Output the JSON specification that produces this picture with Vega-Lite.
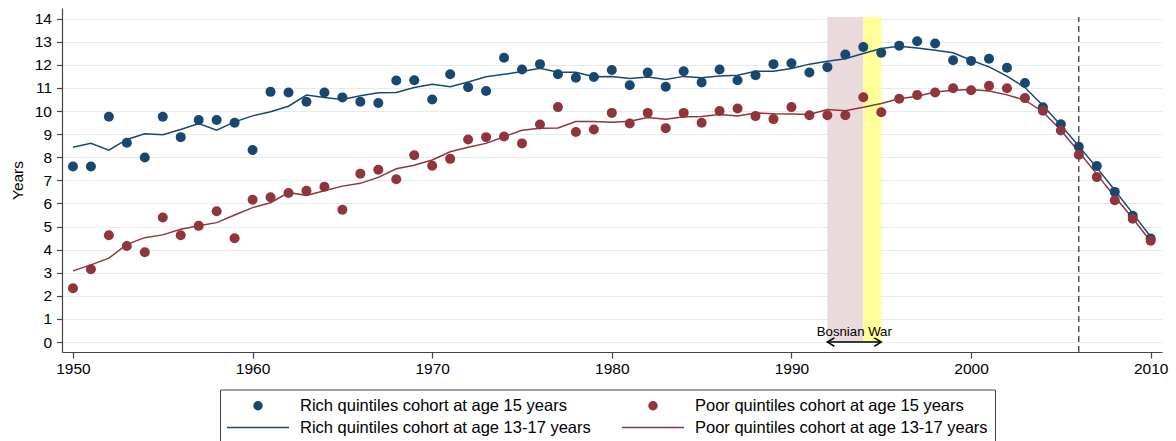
{
  "$schema": "https://vega.github.io/schema/vega-lite/v6.json",
  "width": 1100,
  "height": 344,
  "autosize": {"type": "none"},
  "padding": {"left": 62, "top": 8, "right": 14, "bottom": 89},
  "background": "white",
  "config": {
    "view": {"stroke": null},
    "font": "Liberation Sans",
    "axis": {"domainColor": "#444", "tickColor": "#444", "labelColor": "#000", "titleColor": "#000", "labelFontSize": 15.5, "titleFontSize": 15.5, "titleFontWeight": "normal", "domainWidth": 1.2, "tickWidth": 1.2, "labelFont": "Liberation Sans", "titleFont": "Liberation Sans"},
    "legend": {"title": null, "columns": 2, "direction": "horizontal", "orient": "none", "legendX": 158, "legendY": 381.5, "padding": 7, "strokeColor": "#444", "fillColor": "white", "labelFontSize": 16.5, "labelFont": "Liberation Sans", "labelColor": "#000", "labelLimit": 500, "symbolSize": 256, "symbolStrokeWidth": 1.5, "symbolOffset": 22, "labelOffset": 33, "columnPadding": 28, "rowPadding": 4, "gridAlign": "each"}
  },
  "datasets": {
    "dots": [
      {"year":1950,"series":"rich15","value":7.6},{"year":1951,"series":"rich15","value":7.6},{"year":1952,"series":"rich15","value":9.75},{"year":1953,"series":"rich15","value":8.63},{"year":1954,"series":"rich15","value":7.99},{"year":1955,"series":"rich15","value":9.75},{"year":1956,"series":"rich15","value":8.87},{"year":1957,"series":"rich15","value":9.61},{"year":1958,"series":"rich15","value":9.61},{"year":1959,"series":"rich15","value":9.49},
      {"year":1960,"series":"rich15","value":8.31},{"year":1961,"series":"rich15","value":10.83},{"year":1962,"series":"rich15","value":10.8},{"year":1963,"series":"rich15","value":10.4},{"year":1964,"series":"rich15","value":10.8},{"year":1965,"series":"rich15","value":10.59},{"year":1966,"series":"rich15","value":10.4},{"year":1967,"series":"rich15","value":10.35},{"year":1968,"series":"rich15","value":11.32},{"year":1969,"series":"rich15","value":11.33},
      {"year":1970,"series":"rich15","value":10.5},{"year":1971,"series":"rich15","value":11.59},{"year":1972,"series":"rich15","value":11.03},{"year":1973,"series":"rich15","value":10.87},{"year":1974,"series":"rich15","value":12.31},{"year":1975,"series":"rich15","value":11.8},{"year":1976,"series":"rich15","value":12.03},{"year":1977,"series":"rich15","value":11.59},{"year":1978,"series":"rich15","value":11.44},{"year":1979,"series":"rich15","value":11.47},
      {"year":1980,"series":"rich15","value":11.78},{"year":1981,"series":"rich15","value":11.12},{"year":1982,"series":"rich15","value":11.67},{"year":1983,"series":"rich15","value":11.05},{"year":1984,"series":"rich15","value":11.72},{"year":1985,"series":"rich15","value":11.24},{"year":1986,"series":"rich15","value":11.8},{"year":1987,"series":"rich15","value":11.33},{"year":1988,"series":"rich15","value":11.55},{"year":1989,"series":"rich15","value":12.03},
      {"year":1990,"series":"rich15","value":12.07},{"year":1991,"series":"rich15","value":11.67},{"year":1992,"series":"rich15","value":11.9},{"year":1993,"series":"rich15","value":12.45},{"year":1994,"series":"rich15","value":12.77},{"year":1995,"series":"rich15","value":12.52},{"year":1996,"series":"rich15","value":12.83},{"year":1997,"series":"rich15","value":13.02},{"year":1998,"series":"rich15","value":12.92},{"year":1999,"series":"rich15","value":12.2},
      {"year":2000,"series":"rich15","value":12.17},{"year":2001,"series":"rich15","value":12.26},{"year":2002,"series":"rich15","value":11.87},{"year":2003,"series":"rich15","value":11.21},{"year":2004,"series":"rich15","value":10.16},{"year":2005,"series":"rich15","value":9.43},{"year":2006,"series":"rich15","value":8.45},{"year":2007,"series":"rich15","value":7.62},{"year":2008,"series":"rich15","value":6.5},{"year":2009,"series":"rich15","value":5.47},{"year":2010,"series":"rich15","value":4.48},
      {"year":1950,"series":"poor15","value":2.33},{"year":1951,"series":"poor15","value":3.15},{"year":1952,"series":"poor15","value":4.62},{"year":1953,"series":"poor15","value":4.16},{"year":1954,"series":"poor15","value":3.89},{"year":1955,"series":"poor15","value":5.39},{"year":1956,"series":"poor15","value":4.62},{"year":1957,"series":"poor15","value":5.03},{"year":1958,"series":"poor15","value":5.66},{"year":1959,"series":"poor15","value":4.49},
      {"year":1960,"series":"poor15","value":6.16},{"year":1961,"series":"poor15","value":6.27},{"year":1962,"series":"poor15","value":6.45},{"year":1963,"series":"poor15","value":6.55},{"year":1964,"series":"poor15","value":6.72},{"year":1965,"series":"poor15","value":5.73},{"year":1966,"series":"poor15","value":7.29},{"year":1967,"series":"poor15","value":7.46},{"year":1968,"series":"poor15","value":7.05},{"year":1969,"series":"poor15","value":8.09},
      {"year":1970,"series":"poor15","value":7.63},{"year":1971,"series":"poor15","value":7.93},{"year":1972,"series":"poor15","value":8.77},{"year":1973,"series":"poor15","value":8.87},{"year":1974,"series":"poor15","value":8.9},{"year":1975,"series":"poor15","value":8.6},{"year":1976,"series":"poor15","value":9.42},{"year":1977,"series":"poor15","value":10.17},{"year":1978,"series":"poor15","value":9.09},{"year":1979,"series":"poor15","value":9.2},
      {"year":1980,"series":"poor15","value":9.92},{"year":1981,"series":"poor15","value":9.46},{"year":1982,"series":"poor15","value":9.92},{"year":1983,"series":"poor15","value":9.26},{"year":1984,"series":"poor15","value":9.92},{"year":1985,"series":"poor15","value":9.49},{"year":1986,"series":"poor15","value":10.0},{"year":1987,"series":"poor15","value":10.11},{"year":1988,"series":"poor15","value":9.78},{"year":1989,"series":"poor15","value":9.65},
      {"year":1990,"series":"poor15","value":10.17},{"year":1991,"series":"poor15","value":9.82},{"year":1992,"series":"poor15","value":9.82},{"year":1993,"series":"poor15","value":9.82},{"year":1994,"series":"poor15","value":10.6},{"year":1995,"series":"poor15","value":9.95},{"year":1996,"series":"poor15","value":10.53},{"year":1997,"series":"poor15","value":10.69},{"year":1998,"series":"poor15","value":10.8},{"year":1999,"series":"poor15","value":10.99},
      {"year":2000,"series":"poor15","value":10.9},{"year":2001,"series":"poor15","value":11.09},{"year":2002,"series":"poor15","value":10.99},{"year":2003,"series":"poor15","value":10.56},{"year":2004,"series":"poor15","value":10.01},{"year":2005,"series":"poor15","value":9.16},{"year":2006,"series":"poor15","value":8.11},{"year":2007,"series":"poor15","value":7.14},{"year":2008,"series":"poor15","value":6.14},{"year":2009,"series":"poor15","value":5.34},{"year":2010,"series":"poor15","value":4.39}
    ],
    "fits": [
      {"year":1950,"series":"rich1317","value":8.43},{"year":1951,"series":"rich1317","value":8.6},{"year":1952,"series":"rich1317","value":8.31},{"year":1953,"series":"rich1317","value":8.77},{"year":1954,"series":"rich1317","value":9.02},{"year":1955,"series":"rich1317","value":8.97},{"year":1956,"series":"rich1317","value":9.2},{"year":1957,"series":"rich1317","value":9.46},{"year":1958,"series":"rich1317","value":9.17},{"year":1959,"series":"rich1317","value":9.53},
      {"year":1960,"series":"rich1317","value":9.79},{"year":1961,"series":"rich1317","value":9.97},{"year":1962,"series":"rich1317","value":10.21},{"year":1963,"series":"rich1317","value":10.69},{"year":1964,"series":"rich1317","value":10.59},{"year":1965,"series":"rich1317","value":10.5},{"year":1966,"series":"rich1317","value":10.66},{"year":1967,"series":"rich1317","value":10.79},{"year":1968,"series":"rich1317","value":10.8},{"year":1969,"series":"rich1317","value":11.02},
      {"year":1970,"series":"rich1317","value":11.16},{"year":1971,"series":"rich1317","value":11.05},{"year":1972,"series":"rich1317","value":11.26},{"year":1973,"series":"rich1317","value":11.48},{"year":1974,"series":"rich1317","value":11.59},{"year":1975,"series":"rich1317","value":11.71},{"year":1976,"series":"rich1317","value":11.85},{"year":1977,"series":"rich1317","value":11.68},{"year":1978,"series":"rich1317","value":11.68},{"year":1979,"series":"rich1317","value":11.48},
      {"year":1980,"series":"rich1317","value":11.5},{"year":1981,"series":"rich1317","value":11.41},{"year":1982,"series":"rich1317","value":11.47},{"year":1983,"series":"rich1317","value":11.37},{"year":1984,"series":"rich1317","value":11.5},{"year":1985,"series":"rich1317","value":11.44},{"year":1986,"series":"rich1317","value":11.52},{"year":1987,"series":"rich1317","value":11.55},{"year":1988,"series":"rich1317","value":11.72},{"year":1989,"series":"rich1317","value":11.72},
      {"year":1990,"series":"rich1317","value":11.84},{"year":1991,"series":"rich1317","value":12.03},{"year":1992,"series":"rich1317","value":12.16},{"year":1993,"series":"rich1317","value":12.26},{"year":1994,"series":"rich1317","value":12.49},{"year":1995,"series":"rich1317","value":12.71},{"year":1996,"series":"rich1317","value":12.8},{"year":1997,"series":"rich1317","value":12.73},{"year":1998,"series":"rich1317","value":12.63},{"year":1999,"series":"rich1317","value":12.52},
      {"year":2000,"series":"rich1317","value":12.2},{"year":2001,"series":"rich1317","value":11.91},{"year":2002,"series":"rich1317","value":11.51},{"year":2003,"series":"rich1317","value":11.02},{"year":2004,"series":"rich1317","value":10.24},{"year":2005,"series":"rich1317","value":9.39},{"year":2006,"series":"rich1317","value":8.48},{"year":2007,"series":"rich1317","value":7.55},{"year":2008,"series":"rich1317","value":6.57},{"year":2009,"series":"rich1317","value":5.57},{"year":2010,"series":"rich1317","value":4.56},
      {"year":1950,"series":"poor1317","value":3.08},{"year":1951,"series":"poor1317","value":3.34},{"year":1952,"series":"poor1317","value":3.63},{"year":1953,"series":"poor1317","value":4.23},{"year":1954,"series":"poor1317","value":4.52},{"year":1955,"series":"poor1317","value":4.64},{"year":1956,"series":"poor1317","value":4.88},{"year":1957,"series":"poor1317","value":5.03},{"year":1958,"series":"poor1317","value":5.17},{"year":1959,"series":"poor1317","value":5.5},
      {"year":1960,"series":"poor1317","value":5.82},{"year":1961,"series":"poor1317","value":6.03},{"year":1962,"series":"poor1317","value":6.47},{"year":1963,"series":"poor1317","value":6.35},{"year":1964,"series":"poor1317","value":6.55},{"year":1965,"series":"poor1317","value":6.75},{"year":1966,"series":"poor1317","value":6.87},{"year":1967,"series":"poor1317","value":7.13},{"year":1968,"series":"poor1317","value":7.5},{"year":1969,"series":"poor1317","value":7.65},
      {"year":1970,"series":"poor1317","value":7.88},{"year":1971,"series":"poor1317","value":8.24},{"year":1972,"series":"poor1317","value":8.43},{"year":1973,"series":"poor1317","value":8.6},{"year":1974,"series":"poor1317","value":8.89},{"year":1975,"series":"poor1317","value":9.17},{"year":1976,"series":"poor1317","value":9.25},{"year":1977,"series":"poor1317","value":9.27},{"year":1978,"series":"poor1317","value":9.55},{"year":1979,"series":"poor1317","value":9.55},
      {"year":1980,"series":"poor1317","value":9.52},{"year":1981,"series":"poor1317","value":9.56},{"year":1982,"series":"poor1317","value":9.72},{"year":1983,"series":"poor1317","value":9.64},{"year":1984,"series":"poor1317","value":9.75},{"year":1985,"series":"poor1317","value":9.76},{"year":1986,"series":"poor1317","value":9.85},{"year":1987,"series":"poor1317","value":9.79},{"year":1988,"series":"poor1317","value":9.92},{"year":1989,"series":"poor1317","value":9.88},
      {"year":1990,"series":"poor1317","value":9.87},{"year":1991,"series":"poor1317","value":9.85},{"year":1992,"series":"poor1317","value":10.07},{"year":1993,"series":"poor1317","value":10.01},{"year":1994,"series":"poor1317","value":10.16},{"year":1995,"series":"poor1317","value":10.33},{"year":1996,"series":"poor1317","value":10.53},{"year":1997,"series":"poor1317","value":10.64},{"year":1998,"series":"poor1317","value":10.82},{"year":1999,"series":"poor1317","value":10.9},
      {"year":2000,"series":"poor1317","value":10.93},{"year":2001,"series":"poor1317","value":10.87},{"year":2002,"series":"poor1317","value":10.7},{"year":2003,"series":"poor1317","value":10.47},{"year":2004,"series":"poor1317","value":9.97},{"year":2005,"series":"poor1317","value":9.17},{"year":2006,"series":"poor1317","value":8.24},{"year":2007,"series":"poor1317","value":7.27},{"year":2008,"series":"poor1317","value":6.29},{"year":2009,"series":"poor1317","value":5.36},{"year":2010,"series":"poor1317","value":4.35}
    ]
  },
  "encoding": {
    "x": {"field": "year", "type": "quantitative", "scale": {"domain": [1949.39, 2010.63], "nice": false, "zero": false}, "axis": {"values": [1950, 1960, 1970, 1980, 1990, 2000, 2010], "format": "d", "title": null, "grid": false, "tickSize": 6, "labelPadding": 3}},
    "y": {"field": "value", "type": "quantitative", "scale": {"domain": [-0.43, 14.46], "nice": false, "zero": false}, "axis": {"values": [0,1,2,3,4,5,6,7,8,9,10,11,12,13,14], "title": "Years", "grid": true, "gridColor": "#e2ecec", "gridWidth": 1, "tickSize": 5.5, "labelPadding": 5, "titlePadding": 9}}
  },
  "layer": [
    {
      "data": {"values": [
        {"year": 1992, "year2": 1994, "value": 0, "value2": 14.07, "period": "war"},
        {"year": 1994, "year2": 1995, "value": 0, "value2": 14.07, "period": "late"}
      ]},
      "mark": {"type": "rect", "strokeWidth": 0},
      "encoding": {
        "x2": {"field": "year2"},
        "y2": {"field": "value2"},
        "fill": {"condition": {"test": "datum.period == 'war'", "value": "#ebdadc"}, "value": "#ffff99"}
      }
    },
    {
      "data": {"values": [{"year": 2006, "value": -0.43, "value2": 14.07}]},
      "mark": {"type": "rule", "color": "#000", "strokeWidth": 1, "strokeDash": [6, 4]},
      "encoding": {"y2": {"field": "value2"}}
    },
    {
      "data": {"values": [{"year": 1992, "year2": 1995, "value": 0}]},
      "mark": {"type": "rule", "color": "#000", "strokeWidth": 1.5},
      "encoding": {"x2": {"field": "year2"}}
    },
    {
      "data": {"values": [{"year": 1992, "value": 0, "dir": "left"}, {"year": 1995, "value": 0, "dir": "right"}]},
      "mark": {"type": "point", "filled": false, "color": "#000", "strokeWidth": 1.5, "size": 196, "opacity": 1},
      "encoding": {"shape": {"condition": {"test": "datum.dir == 'left'", "value": "M1,-0.6L0,0L1,0.6"}, "value": "M-1,-0.6L0,0L-1,0.6"}}
    },
    {
      "data": {"values": [{"year": 1993.5, "value": 0, "label": "Bosnian War"}]},
      "mark": {"type": "text", "fontSize": 13.2, "color": "#000", "baseline": "alphabetic", "align": "center", "dy": -5.6, "font": "Liberation Sans"},
      "encoding": {"text": {"field": "label"}}
    },
    {
      "data": {"name": "fits"},
      "mark": {"type": "line", "strokeWidth": 1.5, "opacity": 1},
      "encoding": {
        "color": {"field": "series", "type": "nominal",
          "scale": {"domain": ["rich15", "poor15", "rich1317", "poor1317"], "range": ["#1a476f", "#90353b", "#1a476f", "#90353b"]},
          "legend": {"labelExpr": "datum.value == 'rich15' ? 'Rich quintiles cohort at age 15 years' : datum.value == 'poor15' ? 'Poor quintiles cohort at age 15 years' : datum.value == 'rich1317' ? 'Rich quintiles cohort at age 13-17 years' : 'Poor quintiles cohort at age 13-17 years'", "encode": {"symbols": {"update": {"fill": {"scale": "color", "field": "value"}, "stroke": {"scale": "color", "field": "value"}, "opacity": {"value": 1}}}}}
        }
      }
    },
    {
      "data": {"name": "dots"},
      "mark": {"type": "point", "filled": true, "size": 100, "opacity": 1, "strokeWidth": 0},
      "encoding": {
        "color": {"field": "series", "type": "nominal",
          "scale": {"domain": ["rich15", "poor15", "rich1317", "poor1317"], "range": ["#1a476f", "#90353b", "#1a476f", "#90353b"]},
          "legend": {"labelExpr": "datum.value == 'rich15' ? 'Rich quintiles cohort at age 15 years' : datum.value == 'poor15' ? 'Poor quintiles cohort at age 15 years' : datum.value == 'rich1317' ? 'Rich quintiles cohort at age 13-17 years' : 'Poor quintiles cohort at age 13-17 years'", "encode": {"symbols": {"update": {"fill": {"scale": "color", "field": "value"}, "stroke": {"scale": "color", "field": "value"}, "opacity": {"value": 1}}}}}
        }
      }
    },
    {
      "data": {"name": "dots"},
      "transform": [{"filter": "datum.year < 0"}],
      "mark": {"type": "point", "filled": true, "opacity": 1},
      "encoding": {
        "color": {"field": "series", "type": "nominal",
          "scale": {"domain": ["rich15", "poor15", "rich1317", "poor1317"], "range": ["#1a476f", "#90353b", "#1a476f", "#90353b"]},
          "legend": {"labelExpr": "datum.value == 'rich15' ? 'Rich quintiles cohort at age 15 years' : datum.value == 'poor15' ? 'Poor quintiles cohort at age 15 years' : datum.value == 'rich1317' ? 'Rich quintiles cohort at age 13-17 years' : 'Poor quintiles cohort at age 13-17 years'", "encode": {"symbols": {"update": {"fill": {"scale": "color", "field": "value"}, "stroke": {"scale": "color", "field": "value"}, "opacity": {"value": 1}}}}}
        },
        "shape": {"field": "series", "type": "nominal",
          "scale": {"domain": ["rich15", "poor15", "rich1317", "poor1317"], "range": ["M0.5,0A0.5,0.5,0,1,1,-0.5,0A0.5,0.5,0,1,1,0.5,0Z", "M0.5,0A0.5,0.5,0,1,1,-0.5,0A0.5,0.5,0,1,1,0.5,0Z", "M-3.875,0L3.875,0", "M-3.875,0L3.875,0"]},
          "legend": {"labelExpr": "datum.value == 'rich15' ? 'Rich quintiles cohort at age 15 years' : datum.value == 'poor15' ? 'Poor quintiles cohort at age 15 years' : datum.value == 'rich1317' ? 'Rich quintiles cohort at age 13-17 years' : 'Poor quintiles cohort at age 13-17 years'", "encode": {"symbols": {"update": {"fill": {"scale": "color", "field": "value"}, "stroke": {"scale": "color", "field": "value"}, "opacity": {"value": 1}}}}}
        }
      }
    }
  ]
}
